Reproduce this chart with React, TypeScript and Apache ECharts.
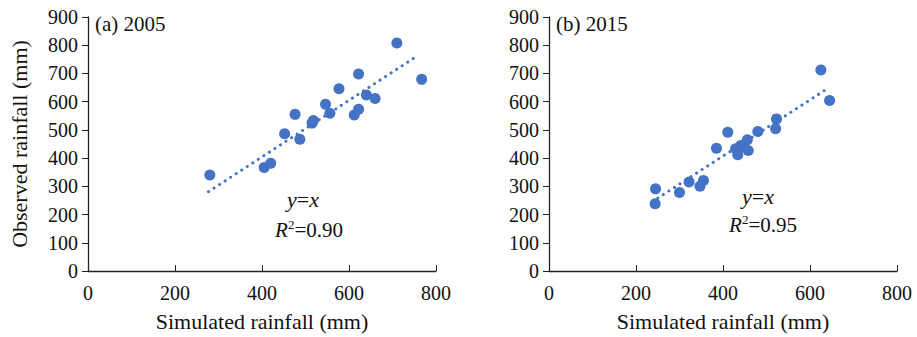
import React, { useEffect, useRef } from "react";
import * as echarts from "echarts";

const xTicks = [0, 200, 400, 600, 800];
const yTicks = [0, 100, 200, 300, 400, 500, 600, 700, 800, 900];

// Panel (a) 2005: [simulated, observed]
const points2005: [number, number][] = [
  [280, 340], [405, 367], [420, 382], [452, 486], [476, 555], [487, 467],
  [515, 524], [518, 533], [546, 591], [556, 559], [577, 646], [612, 553],
  [622, 573], [622, 698], [640, 624], [660, 611], [710, 808], [767, 679],
];
const trend2005: [number, number][] = [[277, 281], [756, 761]];

// Panel (b) 2015
const points2015: [number, number][] = [
  [245, 291], [244, 238], [300, 278], [322, 315], [347, 300], [355, 321],
  [385, 435], [411, 492], [429, 433], [434, 412], [441, 445], [448, 440],
  [456, 465], [458, 427], [480, 494], [521, 504], [523, 539], [625, 712],
  [645, 604],
];
const trend2015: [number, number][] = [[250, 258], [645, 651]];

const panelTitles = ["(a) 2005", "(b) 2015"];
const r2Values = ["0.90", "0.95"];
const xName = "Simulated rainfall (mm)";
const yName = "Observed rainfall (mm)";

const BLUE = "#4472C4";
const FONT = "Liberation Serif";
const INK = "#111";

export default function App() {
  const ref = useRef<HTMLDivElement>(null);
  useEffect(() => {
    if (!ref.current) return;
    const chart = echarts.init(ref.current, null, { renderer: "svg" });
    const grids = [
      { left: 88, width: 348, top: 17, height: 255 },
      { left: 549, width: 348, top: 17, height: 255 },
    ];
    const xAxis = grids.map((_, i) => ({
      type: "value",
      gridIndex: i,
      min: xTicks[0],
      max: xTicks[xTicks.length - 1],
      interval: 200,
      name: xName,
      nameLocation: "middle",
      nameGap: 39,
      nameTextStyle: { fontFamily: FONT, fontSize: 22, color: INK },
      axisLine: { show: true, onZero: false, lineStyle: { color: "#222", width: 1.3 } },
      axisTick: { show: true, inside: true, length: 6, lineStyle: { color: "#222" } },
      axisLabel: { fontFamily: FONT, fontSize: 20, color: INK, margin: 12 },
      splitLine: { show: false },
    }));
    const yAxis = grids.map((_, i) => ({
      type: "value",
      gridIndex: i,
      min: yTicks[0],
      max: yTicks[yTicks.length - 1],
      interval: 100,
      name: i === 0 ? yName : "",
      nameLocation: "middle",
      nameGap: 58,
      nameTextStyle: { fontFamily: FONT, fontSize: 22, color: INK },
      axisLine: { show: true, onZero: false, lineStyle: { color: "#222", width: 1.3 } },
      axisTick: { show: true, inside: false, length: 6, lineStyle: { color: "#222" } },
      axisLabel: { fontFamily: FONT, fontSize: 20, color: INK, margin: 10 },
      splitLine: { show: false },
    }));
    const sets = [
      { pts: points2005, tr: trend2005 },
      { pts: points2015, tr: trend2015 },
    ];
    const series: any[] = [];
    sets.forEach((s, i) => {
      series.push({
        type: "line",
        xAxisIndex: i,
        yAxisIndex: i,
        data: s.tr,
        showSymbol: false,
        symbol: "none",
        lineStyle: { color: BLUE, width: 3, type: [0.1, 6.5], cap: "round" },
        z: 1,
      });
      series.push({
        type: "scatter",
        xAxisIndex: i,
        yAxisIndex: i,
        data: s.pts,
        symbolSize: 11,
        itemStyle: { color: BLUE, opacity: 1 },
        z: 2,
      });
    });

    const graphic: any[] = [];
    const txt = (x: number, y: number, text: string, size: number, italic: boolean, align = "left") => ({
      type: "text",
      x,
      y,
      style: {
        text,
        font: `${italic ? "italic " : ""}${size}px ${FONT}`,
        fill: INK,
        align,
        verticalAlign: "middle",
      },
    });
    const titlePos = [{ x: 95, y: 24 }, { x: 556, y: 24 }];
    // centre of "=" in "y=x", and baseline-middle y
    const eqPos = [{ x: 303, y: 199.5 }, { x: 758, y: 196.5 }];
    // left edge of "R", middle y
    const r2Pos = [{ x: 275, y: 229.5 }, { x: 729, y: 225 }];
    for (let i = 0; i < 2; i++) {
      graphic.push(txt(titlePos[i].x, titlePos[i].y, panelTitles[i], 21, false));
      graphic.push(txt(eqPos[i].x - 6.2, eqPos[i].y, "y", 22, true, "right"));
      graphic.push(txt(eqPos[i].x, eqPos[i].y, "=", 22, false, "center"));
      graphic.push(txt(eqPos[i].x + 6.2, eqPos[i].y, "x", 22, true, "left"));
      graphic.push(txt(r2Pos[i].x, r2Pos[i].y, "R", 21, true, "left"));
      graphic.push(txt(r2Pos[i].x + 13, r2Pos[i].y - 5.5, "2", 13, false, "left"));
      graphic.push(txt(r2Pos[i].x + 19.5, r2Pos[i].y, `=${r2Values[i]}`, 21, false, "left"));
    }
    chart.setOption({
      animation: false,
      backgroundColor: "#fff",
      grid: grids,
      xAxis,
      yAxis,
      series,
      graphic,
    });
    return () => chart.dispose();
  }, []);
  return (
    <div
      ref={ref}
      style={{ position: "fixed", left: 0, top: 0, width: 917, height: 337, background: "#fff" }}
    />
  );
}
